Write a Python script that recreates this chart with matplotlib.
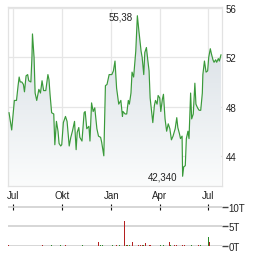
import numpy as np
import pandas as pd
import matplotlib
matplotlib.use('Agg')
from matplotlib import pyplot as plt
import matplotlib.dates as mdates
from matplotlib.colors import LinearSegmentedColormap

plt.rcParams['font.family'] = ['Liberation Sans', 'DejaVu Sans']

# price series: days after 2023-07-01 and the close
price_days = [-8, -3, 2, 6, 9, 11, 13, 16, 19, 21, 24, 27, 29, 33, 35, 36, 39, 41, 44, 48,
              51, 54, 57, 61, 65, 67, 69, 72, 76, 78, 81, 84, 86, 89, 91, 94, 98, 101, 105, 108,
              111, 115, 118, 120, 123, 125, 129, 133, 135, 138, 142, 144, 147, 150, 153, 157, 160, 164, 166, 170,
              173, 176, 180, 185, 188, 191, 194, 198, 202, 205, 206, 210, 213, 216, 218, 221, 223, 226, 230, 233,
              236, 240, 242, 245, 247, 250, 252, 255, 257, 260, 262, 265, 267, 270, 272, 275, 277, 280, 282, 285,
              288, 291, 294, 297, 300, 304, 307, 309, 312, 314, 317, 318, 320, 323, 325, 328, 330, 333, 335, 338,
              341, 343, 346, 349, 352, 355, 356, 359, 362, 365, 367, 370, 372, 375, 377, 380, 382, 385, 387, 390]
prices = [47.5, 46.1, 48.5, 48.5, 49.7, 50.4, 50.0, 50.0, 49.8, 49.2, 50.5, 50.6, 50.1, 50.0, 52.0, 53.9, 52.0, 49.1, 48.5, 49.4,
          49.1, 50.1, 49.3, 49.3, 50.6, 50.2, 49.0, 47.5, 47.4, 44.9, 46.8, 46.0, 45.0, 44.8, 44.9, 46.7, 47.2, 46.8, 44.8, 45.5,
          46.0, 46.8, 44.5, 45.9, 46.3, 45.5, 45.2, 47.5, 47.6, 46.2, 46.4, 45.2, 48.3, 47.6, 47.9, 46.2, 45.6, 45.5, 45.1, 44.0,
          49.7, 49.8, 50.6, 50.6, 50.9, 51.7, 49.5, 48.2, 48.5, 47.2, 47.6, 47.4, 47.4, 48.5, 48.2, 49.1, 50.8, 50.4, 52.5, 55.38,
          54.1, 52.5, 52.0, 50.6, 52.4, 52.8, 52.0, 50.9, 48.7, 47.5, 46.7, 48.1, 48.5, 48.2, 48.9, 48.7, 47.6, 48.6, 49.0, 47.0,
          46.0, 46.6, 46.2, 45.3, 45.6, 46.2, 47.1, 46.3, 45.8, 45.4, 45.6, 42.34, 43.1, 43.2, 45.4, 46.0, 45.4, 49.1, 47.0, 47.4,
          49.9, 48.2, 47.9, 47.7, 47.7, 49.1, 50.6, 51.7, 50.8, 50.9, 52.0, 52.7, 52.3, 51.8, 51.6, 51.8, 51.6, 51.9, 51.7, 52.2]

# volume (thousands), up days green, down days red
vol_days = [-9, 54, 71, 88, 98, 130, 160, 163, 167, 186, 193, 199, 208, 212, 215, 219, 223, 235, 238,
            242, 245, 249, 255, 258, 277, 283, 293, 296, 303, 307, 318, 321, 335, 347, 352, 366, 368]
volumes = [0.3, 0.3, 0.3, 0.3, 0.3, 0.3, 1.0, 0.3, 0.3, 0.3, 0.3, 0.3, 6.3, 0.3, 0.3, 0.3, 1.0, 0.3, 0.3,
           0.3, 0.3, 0.7, 0.3, 0.3, 0.3, 0.3, 1.0, 0.3, 0.3, 0.3, 0.3, 0.3, 0.3, 0.3, 0.3, 2.3, 1.0]
vol_up = [0, 0, 1, 1, 0, 1, 0, 1, 1, 1, 0, 1, 0, 1, 0, 1, 0, 0, 0,
          0, 1, 0, 0, 0, 1, 1, 0, 1, 0, 0, 0, 0, 1, 0, 1, 1, 0]

month_ticks = ['2023-07-01', '2023-10-01', '2024-01-01', '2024-04-01', '2024-07-01']
month_labels = ['Jul', 'Okt', 'Jan', 'Apr', 'Jul']
price_ticks = [44, 48, 52, 56]
vol_ticks = [0, 5, 10]
vol_tick_labels = ['0T', '5T', '10T']

base = pd.Timestamp('2023-07-01')
x = mdates.date2num(base + pd.to_timedelta(price_days, unit='D'))
y = np.array(prices)
vx = mdates.date2num(base + pd.to_timedelta(vol_days, unit='D'))
xt = mdates.date2num(pd.to_datetime(month_ticks))
xmin = mdates.date2num(base + pd.Timedelta(days=-9.4))
xmax = mdates.date2num(base + pd.Timedelta(days=391.7))
ylo, yhi = 41.55, 56.05

fig = plt.figure(figsize=(2.64, 2.55), dpi=100)
ax = fig.add_axes([0.0314, 0.2667, 0.809, 0.700])
vax = fig.add_axes([0.0314, 0.0314, 0.809, 0.1557])

# gradient fill under the line
cmap = LinearSegmentedColormap.from_list('fade', ['#fbfcfc', '#d3dbe2'])
grad = np.linspace(1, 0, 256).reshape(-1, 1)
im = ax.imshow(grad, extent=[xmin, xmax, ylo, yhi], aspect='auto', cmap=cmap,
               vmin=0, vmax=1, origin='upper', zorder=1)
poly = ax.fill_between(x, y, ylo, color='none', lw=0)
im.set_clip_path(poly.get_paths()[0], transform=ax.transData)

ax.plot(x, y, color='#3a9a3a', lw=0.85, zorder=3)

ax.set_xlim(xmin, xmax)
ax.set_ylim(ylo, yhi)
ax.set_xticks(xt)
ax.set_xticklabels(month_labels)
ax.set_yticks(price_ticks)
ax.yaxis.tick_right()
ax.tick_params(axis='both', length=0, labelsize=7, colors='#222222')
ax.tick_params(axis='x', pad=3)
ax.tick_params(axis='y', pad=3)
ax.grid(True, color='#e6e6e6', lw=0.9, zorder=0)
ax.set_axisbelow(True)
for s in ax.spines.values():
    s.set_color('#e2e2e2')
    s.set_linewidth(0.9)

# high / low labels
i_hi = int(np.argmax(y))
i_lo = int(np.argmin(y))
ax.annotate(f"{y[i_hi]:.2f}".replace('.', ','), (x[i_hi], y[i_hi]), xytext=(-5, -1),
            textcoords='offset pixels', ha='right', va='center', fontsize=7, color='#222222')
ax.annotate(f"{y[i_lo]:.3f}".replace('.', ','), (x[i_lo], y[i_lo]), xytext=(-5, 0),
            textcoords='offset pixels', ha='right', va='center', fontsize=7, color='#222222')

# volume panel
colors = ['#2a8a2a' if u else '#b42020' for u in vol_up]
vax.bar(vx, volumes, width=1.9, color=colors, lw=0, zorder=3)
vax.set_xlim(xmin, xmax)
vax.set_ylim(-0.06, 10.06)
vax.set_yticks(vol_ticks)
vax.set_yticklabels(vol_tick_labels)
vax.yaxis.tick_right()
vax.tick_params(axis='y', length=4, width=1, color='#444444', labelsize=7,
                labelcolor='#222222', pad=1)
vax.set_xticks(xt)
vax.xaxis.tick_top()
vax.tick_params(axis='x', direction='inout', length=4, width=0.8, color='#111111',
                labeltop=False, pad=0)
# top ticks sit on the 10T line
vax.spines['top'].set_position(('data', 10))
vax.grid(True, axis='y', color='#cccccc', lw=1.1, zorder=0)
vax.set_axisbelow(True)
for s in vax.spines.values():
    s.set_visible(False)
vax.patch.set_alpha(0)

fig.savefig('out.png', dpi=100)
